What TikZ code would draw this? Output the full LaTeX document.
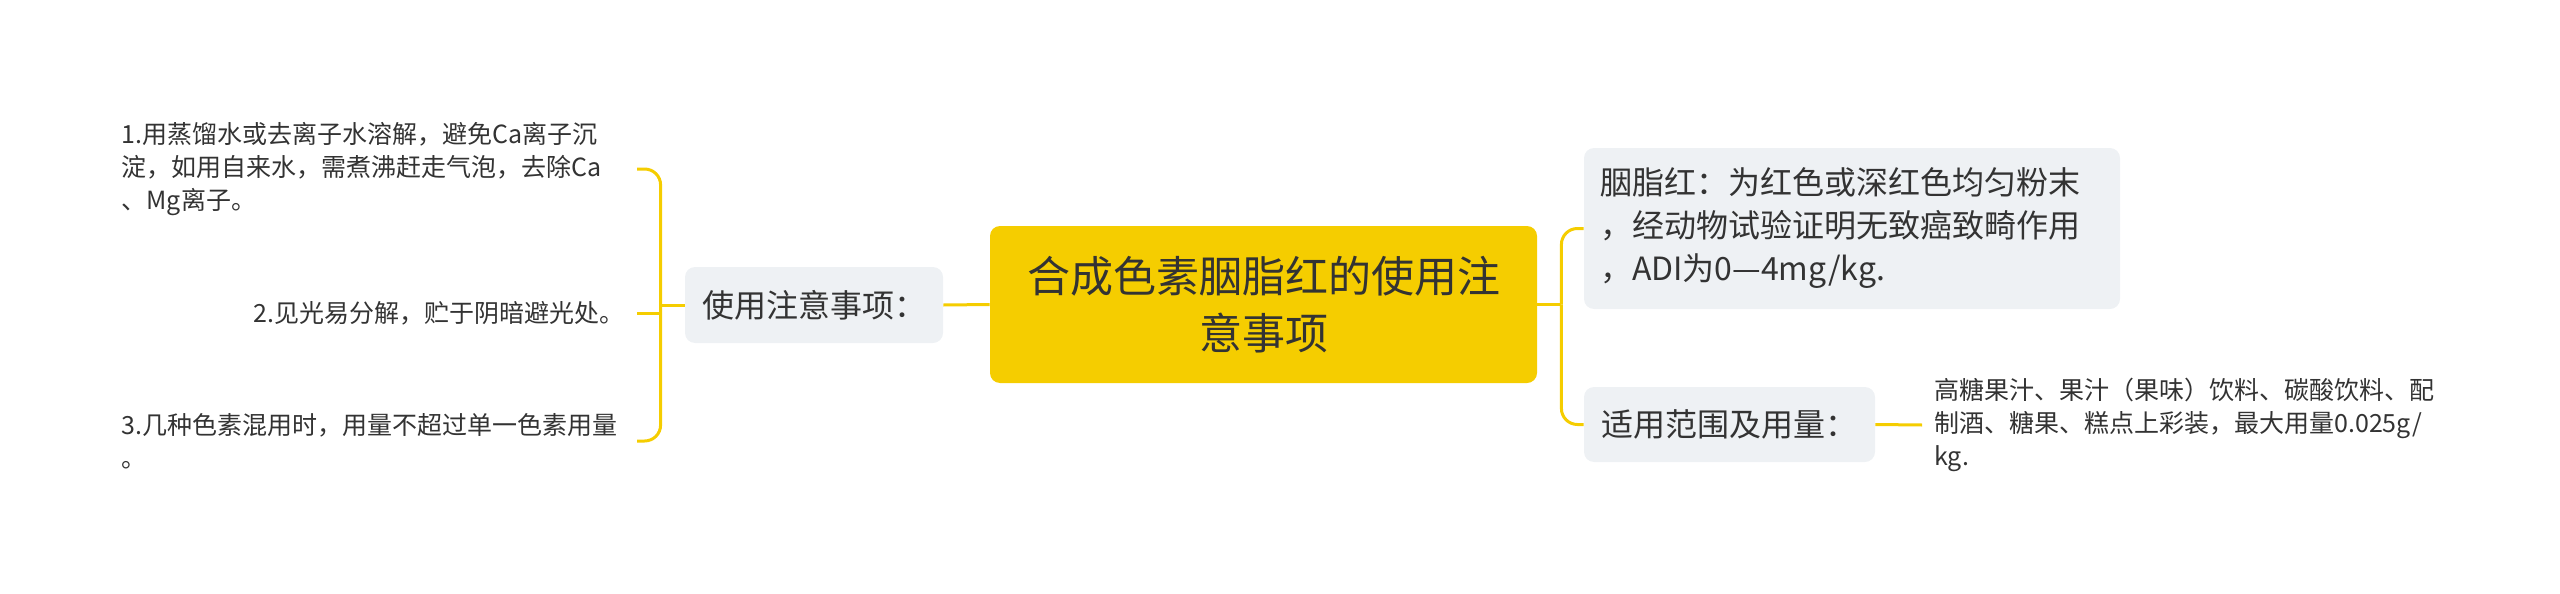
\documentclass[tikz,border=0pt]{standalone}
\usepackage{fontspec}
\setmainfont{Noto Sans CJK SC}
\definecolor{mapyellow}{HTML}{F5CD00}
\definecolor{topicgrey}{HTML}{EEF1F4}
\definecolor{inkdark}{HTML}{333333}
\tikzset{
  rootbox/.style={fill=mapyellow, rounded corners=5pt, minimum width=273.5pt,
    minimum height=78.5pt, align=center, text=inkdark,
    font=\fontsize{21.5pt}{28.5pt}\selectfont},
  topicbox/.style={fill=topicgrey, rounded corners=5pt, text=inkdark,
    font=\fontsize{16pt}{21.5pt}\selectfont},
  leaftext/.style={inner xsep=6pt, align=left, text=inkdark,
    font=\fontsize{12.5pt}{16.5pt}\selectfont},
  branch/.style={draw=mapyellow, line width=1.5pt, rounded corners=8pt}
}
\begin{document}
\begin{tikzpicture}[x=0.5pt,y=-0.5pt]
    \useasboundingbox (0,0) rectangle (2560,594);
    \node[rootbox] (root) at (1263.5,304.5) {合成色素胭脂红的使用注\\意事项};
    \node[topicbox, minimum width=129pt, minimum height=38pt] (care) at (814,305) {使用注意事项：};
    \node[topicbox, text width=252pt, inner xsep=8pt, minimum height=80.5pt, align=left] (dye) at (1852,228.5)
          {胭脂红：为红色或深红色均匀粉末\\，经动物试验证明无致癌致畸作用\\，ADI为0—4mg/kg.};
    \node[topicbox, minimum width=145.5pt, minimum height=37.5pt] (scope) at (1729.5,424.5) {适用范围及用量：};
    \node[leaftext, text width=251.5pt, anchor=east] (tipa) at (637,169)
          {1.用蒸馏水或去离子水溶解，避免Ca离子沉\\淀，如用自来水，需煮沸赶走气泡，去除Ca\\、Mg离子。};
    \node[leaftext, anchor=east] (tipb) at (637,313) {2.见光易分解，贮于阴暗避光处。};
    \node[leaftext, text width=251.5pt, anchor=east] (tipc) at (637,441)
          {3.几种色素混用时，用量不超过单一色素用量\\。};
    \node[leaftext, anchor=west] (usage) at (1922,425)
          {高糖果汁、果汁（果味）饮料、碳酸饮料、配\\制酒、糖果、糕点上彩装，最大用量0.025g/\\kg.};
    \draw[branch] (root.west) -- (care.east);
    \draw[branch] (care.west) -- ++(-24,0) coordinate (lfork);
    \draw[branch] (lfork) |- (tipa.east);
    \draw[branch, sharp corners] (lfork) |- (tipb.east);
    \draw[branch] (lfork) |- (tipc.east);
    \draw[branch] (root.east) -- ++(24,0) coordinate (rfork);
    \draw[branch] (rfork) |- (dye.west);
    \draw[branch] (rfork) |- (scope.west);
    \draw[branch] (scope.east) -- (usage.west);
\end{tikzpicture}
\end{document}
